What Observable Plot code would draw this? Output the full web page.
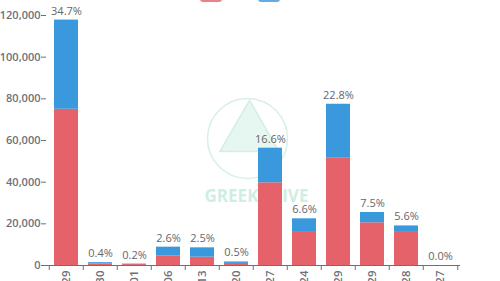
<!DOCTYPE html>
<html>
<head>
<meta charset="utf-8">
<script src="https://cdn.jsdelivr.net/npm/d3@7"></script>
<script src="https://cdn.jsdelivr.net/npm/@observablehq/plot@0.6"></script>
<style>
  html, body { margin: 0; padding: 0; background: #fff; overflow: hidden; }
  #wrap { position: relative; width: 500px; height: 281px; overflow: hidden; }
  #legend { position: absolute; top: -12px; left: 200px; height: 14px; font: 12px/14px "Open Sans", sans-serif; color: #333; }
  #legend .item { position: absolute; top: 0; white-space: nowrap; height: 14px; }
  #legend span.sw { display: inline-block; width: 22px; height: 14px; border-radius: 3px; vertical-align: top; margin-right: 4px; }
  #chart { position: absolute; top: 0; left: 0; }
</style>
</head>
<body>
<div id="wrap">
  <div id="chart"></div>
  <div id="legend"></div>
</div>
<script>
const expiries = ["2023-09-29","2023-09-30","2023-10-01","2023-10-06","2023-10-13","2023-10-20","2023-10-27","2023-11-24","2023-12-29","2024-03-29","2024-06-28","2024-09-27"];
const callOI = [75000, 700, 450, 4500, 4000, 1000, 39700, 16300, 51500, 20500, 16300, 0];
const putOI  = [42800, 660, 230, 4300, 4480, 700, 16600, 6100, 25900, 4950, 2700, 0];
const shareLabels = ["34.7%","0.4%","0.2%","2.6%","2.5%","0.5%","16.6%","6.6%","22.8%","7.5%","5.6%","0.0%"];
const yTicks = [0, 20000, 40000, 60000, 80000, 100000, 120000];
const seriesNames = ["Calls", "Puts"];
const colors = ["#e5626b", "#3a98dc"];

const rows = [];
expiries.forEach((d, i) => {
  rows.push({expiry: d, series: seriesNames[0], value: callOI[i]});
  rows.push({expiry: d, series: seriesNames[1], value: putOI[i]});
});
const totals = expiries.map((d, i) => ({expiry: d, total: callOI[i] + putOI[i], label: shareLabels[i]}));

const legend = document.getElementById("legend");
seriesNames.forEach((s, i) => {
  const it = document.createElement("span");
  it.className = "item";
  it.style.left = (i * 58) + "px";
  it.innerHTML = `<span class="sw" style="background:${colors[i]};opacity:0.8"></span>${s}`;
  legend.appendChild(it);
});

const gray = "#6e7079";
const step = 414 / 12;

const chart = Plot.plot({
  width: 500,
  height: 281,
  marginLeft: 46,
  marginRight: 40,
  marginTop: 15,
  marginBottom: 16,
  style: {fontFamily: "'Open Sans', sans-serif", fontSize: "11px", color: gray, background: "#fff", overflow: "visible"},
  x: {domain: expiries, paddingInner: 0.3, paddingOuter: 0.15, axis: null, label: null},
  y: {domain: [0, 120000], axis: null, label: null},
  color: {domain: seriesNames, range: colors},
  marks: [
    // watermark
    Plot.dot([0], {frameAnchor: "middle", dx: -6, dy: -2, r: 40, stroke: "#d6f0e8", strokeWidth: 1.5, fill: "none"}),
    Plot.dot([0], {frameAnchor: "middle", dx: -4, dy: -6, r: 22, symbol: "triangle", fill: "#e6f6f0", stroke: "#d2efe4", strokeWidth: 1.5}),
    Plot.text(["GREEKS.LIVE"], {frameAnchor: "middle", dx: 3, dy: 56, fontSize: 17, fontWeight: "bold", fill: "#cfeee3", letterSpacing: 0.5}),
    // bars
    Plot.barY(rows, {x: "expiry", y: "value", fill: "series", order: seriesNames}),
    // labels
    Plot.text(totals, {x: "expiry", y: "total", text: "label", dy: -9, fill: "#666", fontSize: 11}),
    // y axis
    Plot.ruleX([0], {frameAnchor: "left", y1: 0, y2: 120000, stroke: gray, dx: 0.5}),
    Plot.axisY(yTicks, {tickSize: 5, tickFormat: d3.format(","), fill: gray, stroke: gray, fontWeight: 600, fontSize: 11, tickPadding: 1, anchor: "left", label: null}),
    // x axis
    Plot.ruleY([0], {stroke: gray}),
    Plot.ruleX(expiries, {x: d => d, y1: 0, y2: -2400, dx: -step / 2, stroke: gray}),
    Plot.ruleX([expiries[expiries.length - 1]], {x: d => d, y1: 0, y2: -2400, dx: step / 2, stroke: gray}),
    Plot.axisX(expiries, {tickSize: 0, tickRotate: -90, tickPadding: 5, fill: gray, fontWeight: 600, fontSize: 11.5, textAnchor: "end", label: null})
  ]
});
document.getElementById("chart").appendChild(chart);
</script>
</body>
</html>
